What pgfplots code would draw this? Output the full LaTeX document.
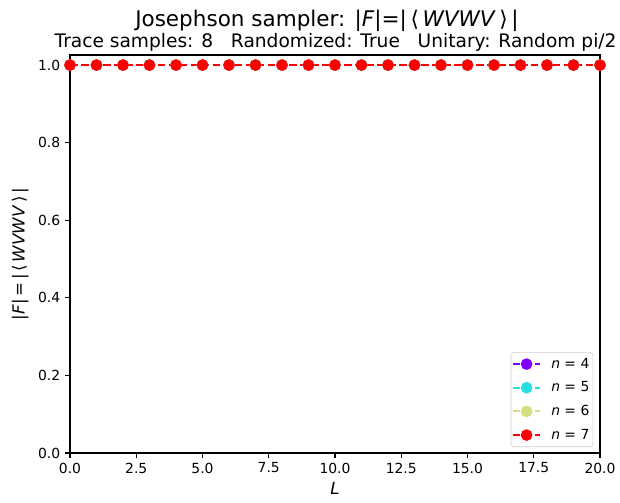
\documentclass[border=0pt]{standalone}
\usepackage{fontspec}
\setmainfont{DejaVu Sans}
\usepackage{pgfplots}
\pgfplotsset{compat=1.18}

\definecolor{cfour}{rgb}{0.5,0.0,1.0}
\definecolor{cfive}{rgb}{0.17,0.87,0.87}
\definecolor{csix}{rgb}{0.83,0.87,0.50}
\definecolor{cseven}{rgb}{1.0,0.0,0.0}

\newcommand{\fid}{|\textit{F}|\,=\,|\,⟨\,\textit{WVWV}\,⟩\,|}
\newcommand{\fidt}{|\textit{F}|=|\,⟨\,\textit{WVWV}\,⟩\,|}

\pgfplotstableread{
L f
0 1
1 1
2 1
3 1
4 1
5 1
6 1
7 1
8 1
9 1
10 1
11 1
12 1
13 1
14 1
15 1
16 1
17 1
18 1
19 1
20 1
}\ones

\pgfplotsset{
  fidline/.style={line width=1.5pt, dash pattern=on 5.5pt off 2.4pt,
    mark=*, mark size=3.4pt, mark options={solid}},
}

\begin{document}
\begin{tikzpicture}
\useasboundingbox (0,0) rectangle (446.4pt,361.44pt);
\begin{axis}[
  axis on top=false,
  at={(50.4pt,35.28pt)}, anchor=south west,
  scale only axis,
  width=381.6pt, height=286.56pt,
  xmin=0, xmax=20, ymin=0, ymax=1.026,
  clip=false,
  axis line style={line width=0.8pt},
  tick style={black, line width=0.8pt},
  major tick length=3.5pt,
  tick align=outside,
  xtick pos=left, ytick pos=left,
  xtick={0,2.5,...,20},
  ytick={0,0.2,...,1.0},
  xticklabel style={/pgf/number format/.cd, fixed, fixed zerofill, precision=1, assume math mode=true},
  yticklabel style={/pgf/number format/.cd, fixed, fixed zerofill, precision=1, assume math mode=true},
  ticklabel style={font=\fontsize{10}{12}\selectfont},
  xlabel={\textit{L}},
  ylabel={\fid},
  label style={font=\fontsize{12}{14}\selectfont},
  legend cell align=left,
  legend style={font=\fontsize{10}{12}\selectfont, draw=black!20, rounded corners=2pt,
    at={(0.987,0.015)}, anchor=south east, inner xsep=0.5pt, inner ysep=2pt,
    row sep=4.2pt},
  legend image code/.code={
    \draw[#1] (0pt,0pt) -- (20pt,0pt);
    \draw[#1, solid] plot coordinates {(10pt,0pt)};
  },
]
\addplot[color=cfour, fidline] table[x=L, y=f] {\ones};
\addlegendentry{\hspace{5pt}\textit{n} = 4}
\addplot[color=cfive, fidline] table[x=L, y=f] {\ones};
\addlegendentry{\hspace{5pt}\textit{n} = 5}
\addplot[color=csix, fidline] table[x=L, y=f] {\ones};
\addlegendentry{\hspace{5pt}\textit{n} = 6}
\addplot[color=cseven, fidline] table[x=L, y=f] {\ones};
\addlegendentry{\hspace{5pt}\textit{n} = 7}
\end{axis}
\node[anchor=base, font=\fontsize{15.5}{18}\selectfont] at (235.4pt,342pt) {Josephson sampler: \fidt};
\node[anchor=base, font=\fontsize{13.4}{15}\selectfont] at (241.6pt,327.2pt) {Trace samples: 8\ \ \ Randomized: True\ \ \ Unitary: Random pi/2};
\end{tikzpicture}
\end{document}
